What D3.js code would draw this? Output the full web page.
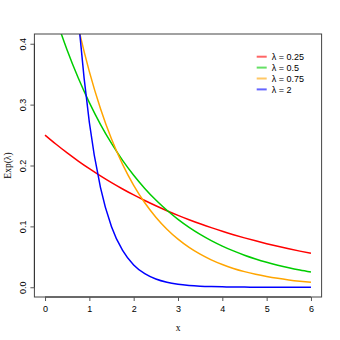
<!DOCTYPE html>
<html>
<head>
<meta charset="utf-8">
<script src="https://cdn.jsdelivr.net/npm/d3@7"></script>
<style>
  html, body { margin: 0; padding: 0; background: #fff; }
  svg { display: block; }
</style>
</head>
<body>
<svg id="chart" width="340" height="340"></svg>
<script>
// x grid shared by all four density curves
const xs = [0, 0.25, 0.5, 0.75, 1, 1.25, 1.5, 1.75, 2, 2.25, 2.5, 2.75, 3,
            3.25, 3.5, 3.75, 4, 4.25, 4.5, 4.75, 5, 5.25, 5.5, 5.75, 6];

// density values of Exp(λ) at each x
const dens025 = [0.25, 0.23485, 0.22062, 0.20726, 0.19470, 0.18290, 0.17182, 0.16141,
                 0.15163, 0.14245, 0.13382, 0.12571, 0.11809, 0.11094, 0.10422, 0.09790,
                 0.09197, 0.08640, 0.08116, 0.07625, 0.07163, 0.06729, 0.06321, 0.05938, 0.05578];
const dens05 = [0.5, 0.44125, 0.38940, 0.34364, 0.30327, 0.26763, 0.23618, 0.20843,
                0.18394, 0.16233, 0.14325, 0.12642, 0.11157, 0.09846, 0.08689, 0.07668,
                0.06767, 0.05972, 0.05270, 0.04651, 0.04104, 0.03622, 0.03196, 0.02821, 0.02489];
const dens075 = [0.75, 0.62177, 0.51547, 0.42734, 0.35428, 0.29370, 0.24349, 0.20186,
                 0.16735, 0.13874, 0.11502, 0.09535, 0.07905, 0.06553, 0.05433, 0.04504,
                 0.03734, 0.03096, 0.02566, 0.02128, 0.01764, 0.01462, 0.01212, 0.01005, 0.00833];
const dens2 = [2, 1.21306, 0.73576, 0.44626, 0.27067, 0.16417, 0.09957, 0.06039,
               0.03663, 0.02222, 0.01348, 0.00817, 0.00496, 0.00301, 0.00182, 0.00111,
               0.00067, 0.00041, 0.00025, 0.00015, 0.00009, 0.00006, 0.00003, 0.00002, 0.00001];

const seriesLabels = ["λ = 0.25", "λ = 0.5", "λ = 0.75", "λ = 2"];
const seriesColors = ["#ff0000", "#00cd00", "#ffa500", "#0000ff"];
const seriesValues = [dens025, dens05, dens075, dens2];

const xTicks = [0, 1, 2, 3, 4, 5, 6];
const yTicks = [0.0, 0.1, 0.2, 0.3, 0.4];

const svg = d3.select("#chart");
const plotL = 34.4, plotR = 321.6, plotT = 34, plotB = 297;

const x = d3.scaleLinear().domain([-0.24, 6.24]).range([plotL, plotR]);
const y = d3.scaleLinear().domain([-0.016, 0.416]).range([plotB, plotT]);

svg.append("defs").append("clipPath").attr("id", "plotclip")
  .append("rect").attr("x", plotL).attr("y", plotT)
  .attr("width", plotR - plotL).attr("height", plotB - plotT);

const line = d3.line()
  .x((d, i) => x(xs[i]))
  .y(d => y(d))
  .curve(d3.curveMonotoneX);

const curves = svg.append("g").attr("clip-path", "url(#plotclip)");
seriesValues.forEach((vals, i) => {
  curves.append("path")
    .attr("d", line(vals))
    .attr("fill", "none")
    .attr("stroke", seriesColors[i])
    .attr("stroke-width", 1.5);
});

// plot frame
svg.append("rect")
  .attr("x", plotL).attr("y", plotT)
  .attr("width", plotR - plotL).attr("height", plotB - plotT)
  .attr("fill", "none").attr("stroke", "#444").attr("stroke-width", 1);

// x axis
const xAxis = d3.axisBottom(x).tickValues(xTicks).tickSize(4).tickPadding(5)
  .tickFormat(d3.format("d"));
const gx = svg.append("g").attr("transform", `translate(0,${plotB})`).call(xAxis);
gx.select(".domain").attr("d", `M${x(0)},0H${x(6)}`).attr("stroke", "#333");
gx.selectAll(".tick line").attr("stroke", "#555");
gx.selectAll(".tick text")
  .attr("font-family", "'Liberation Sans', Arial, sans-serif")
  .attr("font-size", 9).attr("fill", "#000");

// y axis with rotated labels
const yAxis = d3.axisLeft(y).tickValues(yTicks).tickSize(4).tickFormat(d3.format(".1f"));
const gy = svg.append("g").attr("transform", `translate(${plotL},0)`).call(yAxis);
gy.select(".domain").attr("d", `M0,${y(0)}V${y(0.4)}`).attr("stroke", "#333");
gy.selectAll(".tick line").attr("stroke", "#555");
gy.selectAll(".tick text")
  .attr("x", 0).attr("y", 0).attr("dy", null)
  .attr("text-anchor", "middle")
  .attr("transform", "translate(-8.5,0) rotate(-90)")
  .attr("font-family", "'Liberation Sans', Arial, sans-serif")
  .attr("font-size", 9).attr("fill", "#000");

// axis titles
svg.append("text")
  .attr("x", x(3)).attr("y", 331)
  .attr("text-anchor", "middle")
  .attr("font-family", "'Liberation Serif', 'DejaVu Serif', serif")
  .attr("font-size", 9.5).text("x");
svg.append("text")
  .attr("transform", `translate(10.5,${(plotT + plotB) / 2}) rotate(-90)`)
  .attr("text-anchor", "middle")
  .attr("font-family", "'Liberation Serif', 'DejaVu Serif', serif")
  .attr("font-size", 9.5).text("Exp(λ)");

// legend
const legend = svg.append("g");
seriesLabels.forEach((lab, i) => {
  const cy = 56.7 + i * 10.9;
  legend.append("line")
    .attr("x1", 256.7).attr("x2", 266.7).attr("y1", cy).attr("y2", cy)
    .attr("stroke", seriesColors[i]).attr("stroke-width", 2).attr("opacity", 0.6);
  legend.append("text")
    .attr("x", 271.7).attr("y", cy).attr("dy", "0.35em")
    .attr("font-family", "'Liberation Sans', Arial, sans-serif")
    .attr("font-size", 9).text(lab);
});
</script>
</body>
</html>
